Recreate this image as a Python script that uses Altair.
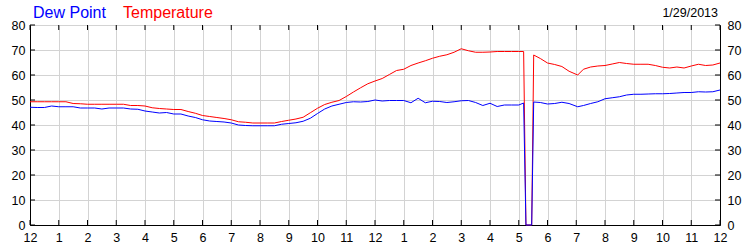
import json
import altair as alt
import pandas as pd

# ---- data ----
hours = [0.00, 0.25, 0.50, 0.75, 1.00, 1.25, 1.50, 1.75, 2.00, 2.25, 2.50, 2.75,
         3.00, 3.25, 3.50, 3.75, 4.00, 4.25, 4.50, 4.75, 5.00, 5.25, 5.50, 5.75,
         6.00, 6.25, 6.50, 6.75, 7.00, 7.25, 7.50, 7.75, 8.00, 8.25, 8.50, 8.75,
         9.00, 9.25, 9.50, 9.75, 10.00, 10.25, 10.50, 10.75, 11.00, 11.25, 11.50, 11.75,
         12.00, 12.25, 12.50, 12.75, 13.00, 13.25, 13.50, 13.75, 14.00, 14.25, 14.50, 14.75,
         15.00, 15.25, 15.50, 15.75, 16.00, 16.25, 16.50, 16.75, 17.00, 17.17, 17.25, 17.45,
         17.52, 17.75, 18.00, 18.25, 18.50, 18.75, 19.05, 19.25, 19.50, 19.75,
         20.00, 20.25, 20.50, 20.75, 21.00, 21.25, 21.50, 21.75, 22.00, 22.25, 22.50, 22.75,
         23.00, 23.25, 23.50, 23.75, 24.00]

temperature = [49.3, 49.3, 49.3, 49.3, 49.3, 49.3, 48.6, 48.5, 48.3, 48.3, 48.3, 48.3,
               48.3, 48.3, 47.8, 47.8, 47.6, 46.9, 46.6, 46.4, 46.2, 46.2, 45.4, 44.7,
               43.8, 43.4, 43.0, 42.6, 42.1, 41.3, 41.1, 40.8, 40.8, 40.8, 40.8, 41.4,
               41.9, 42.4, 43.1, 44.9, 46.7, 48.2, 49.1, 49.8, 51.4, 53.2, 54.9, 56.5,
               57.6, 58.6, 60.2, 61.8, 62.3, 63.8, 64.8, 65.7, 66.7, 67.5, 68.1, 69.1,
               70.5, 69.7, 69.1, 69.1, 69.2, 69.4, 69.4, 69.4, 69.4, 69.4, 0.0, 0.0,
               68.0, 66.6, 64.8, 64.2, 63.4, 61.5, 60.0, 62.3, 63.2, 63.6,
               63.8, 64.4, 65.0, 64.6, 64.3, 64.3, 64.3, 63.8, 63.1, 62.8, 63.2, 62.8,
               63.6, 64.3, 63.8, 64.0, 64.8]

dew_point = [47.1, 47.0, 47.0, 47.6, 47.3, 47.3, 47.3, 46.8, 46.8, 46.8, 46.4, 46.8,
             46.8, 46.8, 46.4, 46.3, 45.6, 45.2, 44.8, 45.0, 44.4, 44.4, 43.6, 43.0,
             42.1, 41.6, 41.4, 41.2, 40.8, 40.0, 39.8, 39.7, 39.7, 39.7, 39.7, 40.3,
             40.6, 40.9, 41.5, 42.7, 44.6, 46.4, 47.6, 48.3, 49.0, 49.3, 49.2, 49.4,
             50.0, 49.6, 49.8, 49.8, 49.8, 48.9, 50.7, 48.9, 49.5, 49.4, 49.0, 49.3,
             49.7, 49.8, 49.0, 47.8, 48.7, 47.4, 48.0, 48.0, 48.0, 48.8, 0.0, 0.0,
             49.2, 49.0, 48.4, 48.6, 49.1, 48.6, 47.3, 47.8, 48.6, 49.3,
             50.5, 50.9, 51.3, 52.0, 52.3, 52.3, 52.4, 52.5, 52.5, 52.6, 52.8, 53.0,
             53.0, 53.3, 53.2, 53.3, 54.0]

x_ticks = list(range(0, 25))
x_labels = ["12", "1", "2", "3", "4", "5", "6", "7", "8", "9", "10", "11",
            "12", "1", "2", "3", "4", "5", "6", "7", "8", "9", "10", "11", "12"]
y_ticks = [0, 10, 20, 30, 40, 50, 60, 70, 80]
series_names = ["Dew Point", "Temperature"]
date_text = "1/29/2013"

FONT = "Liberation Sans"

df = pd.DataFrame({"hour": hours, "temp": temperature, "dew": dew_point})
xt = pd.DataFrame({"t": x_ticks})
yt = pd.DataFrame({"v": y_ticks})

xscale = alt.Scale(domain=[0, 24], nice=False, zero=False)
yscale = alt.Scale(domain=[0, 80], nice=False)
label_expr = json.dumps(x_labels) + "[datum.value]"

x_axis = alt.Axis(values=x_ticks, labelExpr=label_expr, grid=True, gridColor="#d3d3d3",
                  ticks=False, domainColor="black", labelFont=FONT, labelFontSize=12.5,
                  labelColor="black", labelPadding=6, title=None, labelFlush=False)

y_left = alt.Axis(values=y_ticks, grid=True, gridColor="#d3d3d3", ticks=False,
                  domainColor="black", labelFont=FONT, labelFontSize=12.5,
                  labelColor="black", labelPadding=5, title=None, orient="left")
y_right = alt.Axis(values=y_ticks, grid=False, ticks=False, domainColor="black",
                   labelFont=FONT, labelFontSize=12.5, labelColor="black",
                   labelPadding=7, title=None, orient="right", labelAlign="left")

base = alt.Chart(df)
temp_line = base.mark_line(color="#ff0000", strokeWidth=1).encode(
    x=alt.X("hour:Q", scale=xscale, axis=x_axis),
    y=alt.Y("temp:Q", scale=yscale, axis=y_left),
)
dew_line = base.mark_line(color="#0000ff", strokeWidth=1).encode(
    x=alt.X("hour:Q", scale=xscale, axis=x_axis),
    y=alt.Y("dew:Q", scale=yscale, axis=y_right),
)

# inward tick marks on all four sides
tick_len_y = 2.0      # in y units
tick_len_x = 0.174    # in hours
bottom_ticks = alt.Chart(xt).mark_rule(color="black").encode(
    x=alt.X("t:Q", scale=xscale, axis=x_axis),
    y=alt.Y(datum=0, scale=yscale, axis=None), y2=alt.Y2(datum=tick_len_y))
top_ticks = alt.Chart(xt).mark_rule(color="black").encode(
    x=alt.X("t:Q", scale=xscale, axis=x_axis),
    y=alt.Y(datum=80, scale=yscale, axis=None), y2=alt.Y2(datum=80 - tick_len_y))
left_ticks = alt.Chart(yt).mark_rule(color="black").encode(
    y=alt.Y("v:Q", scale=yscale, axis=None),
    x=alt.X(datum=0, scale=xscale, axis=x_axis), x2=alt.X2(datum=tick_len_x))
right_ticks = alt.Chart(yt).mark_rule(color="black").encode(
    y=alt.Y("v:Q", scale=yscale, axis=None),
    x=alt.X(datum=24, scale=xscale, axis=x_axis), x2=alt.X2(datum=24 - tick_len_x))

title_dew = alt.Chart(pd.DataFrame({"s": [series_names[0]]})).mark_text(
    align="left", baseline="alphabetic", font=FONT, fontSize=16, color="#0000ff"
).encode(text="s:N", x=alt.value(3), y=alt.value(-7.5))
title_temp = alt.Chart(pd.DataFrame({"s": [series_names[1]]})).mark_text(
    align="left", baseline="alphabetic", font=FONT, fontSize=16, color="#ff0000"
).encode(text="s:N", x=alt.value(93), y=alt.value(-7.5))
date_mark = alt.Chart(pd.DataFrame({"s": [date_text]})).mark_text(
    align="right", baseline="alphabetic", font=FONT, fontSize=12.5, color="black"
).encode(text="s:N", x=alt.value(688), y=alt.value(-8))

chart = alt.layer(
    temp_line, dew_line, bottom_ticks, top_ticks, left_ticks, right_ticks,
    title_dew, title_temp, date_mark
).resolve_axis(y="independent").properties(
    width=690, height=200,
    autosize=alt.AutoSizeParams(type="none"),
    padding={"left": 30, "top": 25, "right": 30, "bottom": 25},
    background="white",
).configure_view(stroke="black", strokeWidth=1)

chart.save("out.html", embed_options={"renderer": "svg", "actions": False})
